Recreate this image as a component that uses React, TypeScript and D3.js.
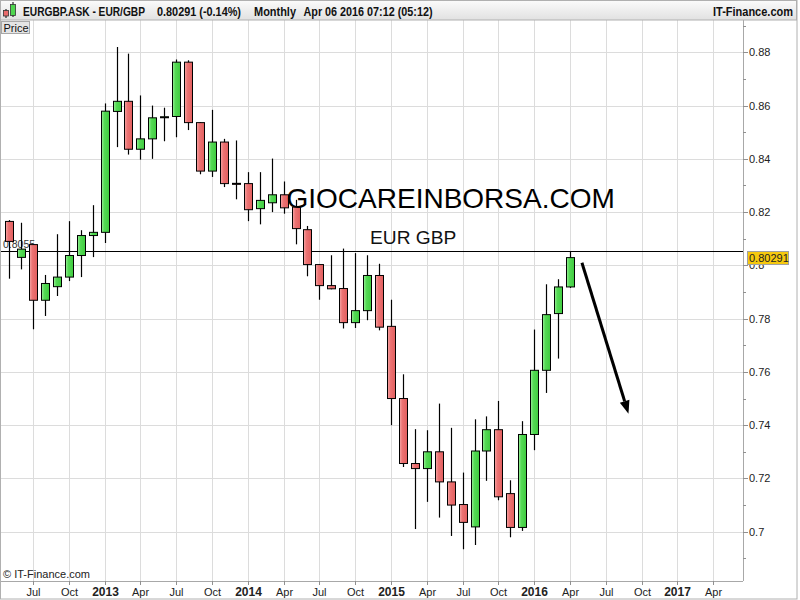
import * as d3 from "d3";

// monthly candles, May 2012 .. Apr 2016 (month index: 0 = Jan 2012)
const FIRST_MONTH = 4;
const OPEN = [
  0.8165, 0.803, 0.8078, 0.7869, 0.792, 0.7956, 0.8037, 0.8112,
  0.8124, 0.8578, 0.8616, 0.8436, 0.8475, 0.8555, 0.8559, 0.8763, 0.8536, 0.8354, 0.8463, 0.8308,
  0.8307, 0.8213, 0.8235, 0.8265, 0.8219, 0.8134, 0.8003, 0.7924, 0.7913, 0.7785, 0.783, 0.7962,
  0.7771, 0.75, 0.7256, 0.7237, 0.73, 0.7187, 0.7102, 0.7018, 0.7303, 0.7383, 0.7143, 0.7016,
  0.7365, 0.7606, 0.7819, 0.7919,
];
const HIGH = [
  0.817, 0.816, 0.808, 0.7964, 0.8117, 0.8166, 0.8132, 0.8226,
  0.8608, 0.882, 0.8795, 0.8638, 0.86, 0.8592, 0.8773, 0.877, 0.8538, 0.8584, 0.8475, 0.8469,
  0.835, 0.835, 0.8401, 0.8315, 0.8246, 0.8148, 0.8004, 0.8038, 0.8063, 0.8046, 0.8038, 0.8006,
  0.7871, 0.7591, 0.7385, 0.7381, 0.7481, 0.739, 0.7222, 0.7422, 0.7433, 0.7491, 0.7193, 0.7415,
  0.7759, 0.7929, 0.7948, 0.8053,
];
const LOW = [
  0.795, 0.7985, 0.776, 0.781, 0.7885, 0.7941, 0.7956, 0.8031,
  0.8084, 0.8444, 0.8416, 0.8397, 0.84, 0.8466, 0.8481, 0.8508, 0.8342, 0.8332, 0.8294, 0.8248,
  0.8166, 0.8154, 0.82, 0.8194, 0.8079, 0.7959, 0.7871, 0.791, 0.7763, 0.7765, 0.7794, 0.7756,
  0.74, 0.7243, 0.701, 0.7112, 0.7053, 0.6984, 0.6934, 0.695, 0.7191, 0.7118, 0.6979, 0.7003,
  0.7306, 0.7521, 0.765, 0.7915,
];
const CLOSE = [
  0.809, 0.8061, 0.7869, 0.7932, 0.7956, 0.8037, 0.8112, 0.8124,
  0.8579, 0.8616, 0.8436, 0.8475, 0.8554, 0.8558, 0.8763, 0.8536, 0.8354, 0.8463, 0.8307, 0.8305,
  0.8209, 0.8244, 0.8265, 0.8216, 0.8138, 0.8003, 0.7924, 0.7912, 0.7785, 0.783, 0.7962, 0.7768,
  0.75, 0.7256, 0.7237, 0.73, 0.7187, 0.71, 0.7035, 0.7303, 0.7383, 0.7131, 0.7016, 0.7365,
  0.7606, 0.7815, 0.7919, 0.80291,
];

const Y_TICKS = [0.7, 0.72, 0.74, 0.76, 0.78, 0.8, 0.82, 0.84, 0.86, 0.88];
const Y_MINOR = [0.69, 0.71, 0.73, 0.75, 0.77, 0.79, 0.81, 0.83, 0.85, 0.87, 0.89];
const X_TICK_MONTHS = [6, 9, 12, 15, 18, 21, 24, 27, 30, 33, 36, 39, 42, 45, 48, 51, 54, 57, 60, 63];
const X_TICK_LABELS = [
  "Jul", "Oct", "2013", "Apr", "Jul", "Oct", "2014", "Apr", "Jul", "Oct",
  "2015", "Apr", "Jul", "Oct", "2016", "Apr", "Jul", "Oct", "2017", "Apr",
];

const LAST_PRICE = 0.80291;
const LEVEL = 0.8055;
const ARROW_FROM: [number, number] = [52.0, 0.801];
const ARROW_TO: [number, number] = [55.9, 0.7443];

const W = 800;
const H = 600;
const PLOT = { left: 0, right: 743, top: 20, bottom: 581 };
const FONT = "Arial, 'Liberation Sans', sans-serif";

export default function App() {
  const x = d3.scaleLinear().domain([6, 51]).range([33, 570]);
  const y = d3.scaleLinear().domain([0.7, 0.88]).range([531.7, 52.3]);

  const candles = OPEN.map((o, i) => ({
    m: FIRST_MONTH + i,
    o,
    h: HIGH[i],
    l: LOW[i],
    c: CLOSE[i],
  }));

  const [ax1, ay1] = [x(ARROW_FROM[0]), y(ARROW_FROM[1])];
  const [ax2, ay2] = [x(ARROW_TO[0]), y(ARROW_TO[1])];
  const ang = Math.atan2(ay2 - ay1, ax2 - ax1);
  const headLen = 13;
  const headW = 5;
  const bx = ax2 - headLen * Math.cos(ang);
  const by = ay2 - headLen * Math.sin(ang);
  const head = [
    [ax2, ay2],
    [bx + headW * Math.sin(ang), by - headW * Math.cos(ang)],
    [bx - headW * Math.sin(ang), by + headW * Math.cos(ang)],
  ];

  return (
    <svg
      width={W}
      height={H}
      style={{ position: "absolute", left: 0, top: 0, background: "#fff" }}
      fontFamily={FONT}
    >
      <defs>
        <linearGradient id="hdr" x1="0" y1="0" x2="0" y2="1">
          <stop offset="0" stopColor="#fbfbfb" />
          <stop offset="1" stopColor="#e1e1e1" />
        </linearGradient>
        <linearGradient id="up" x1="0" y1="0" x2="1" y2="0">
          <stop offset="0" stopColor="#9cf09c" />
          <stop offset="0.35" stopColor="#55da55" />
          <stop offset="1" stopColor="#3fcb3f" />
        </linearGradient>
        <linearGradient id="down" x1="0" y1="0" x2="1" y2="0">
          <stop offset="0" stopColor="#f6a8a8" />
          <stop offset="0.35" stopColor="#ec7474" />
          <stop offset="1" stopColor="#e25e5e" />
        </linearGradient>
      </defs>

      <rect x={0} y={0} width={W} height={H} fill="#fff" />

      {/* grid */}
      <g stroke="#dcdcdc" strokeWidth={1}>
        {Y_TICKS.map((t) => (
          <line key={t} x1={PLOT.left} x2={PLOT.right} y1={Math.round(y(t)) + 0.5} y2={Math.round(y(t)) + 0.5} />
        ))}
        {X_TICK_MONTHS.map((m) => (
          <line key={m} x1={Math.round(x(m)) + 0.5} x2={Math.round(x(m)) + 0.5} y1={PLOT.top} y2={PLOT.bottom} />
        ))}
      </g>

      {/* 0.8055 level */}
      <line x1={PLOT.left} x2={PLOT.right} y1={Math.round(y(LEVEL)) + 0.5} y2={Math.round(y(LEVEL)) + 0.5} stroke="#000" />
      <text x={3} y={y(LEVEL) - 3} fontSize={10.5} fill="#333">
        {LEVEL}
      </text>

      {/* candles */}
      <g>
        {candles.map((d) => {
          const cx = Math.round(x(d.m)) + 0.5;
          const top = y(Math.max(d.o, d.c));
          const bot = y(Math.min(d.o, d.c));
          const up = d.c >= d.o;
          return (
            <g key={d.m}>
              <line x1={cx} x2={cx} y1={y(d.h)} y2={y(d.l)} stroke="#000" strokeWidth={1.2} />
              <rect
                x={cx - 4}
                y={top}
                width={8}
                height={Math.max(1, bot - top)}
                fill={up ? "url(#up)" : "url(#down)"}
                stroke="#000"
                strokeWidth={1}
              />
            </g>
          );
        })}
      </g>

      {/* watermark */}
      <text x={286.5} y={207.5} fontSize={28} fill="#000">
        GIOCAREINBORSA.COM
      </text>
      <text x={370} y={243.5} fontSize={19.2} fill="#111">
        EUR GBP
      </text>

      {/* arrow */}
      <line x1={ax1} y1={ay1} x2={bx} y2={by} stroke="#000" strokeWidth={3} />
      <polygon points={head.map((p) => p.join(",")).join(" ")} fill="#000" />

      {/* right axis */}
      <line x1={PLOT.right + 0.5} x2={PLOT.right + 0.5} y1={PLOT.top} y2={PLOT.bottom} stroke="#a8a8a8" />
      <g stroke="#909090">
        {Y_TICKS.map((t) => (
          <line key={t} x1={PLOT.right} x2={PLOT.right + 5} y1={Math.round(y(t)) + 0.5} y2={Math.round(y(t)) + 0.5} />
        ))}
        {Y_MINOR.map((t) => (
          <line key={t} x1={PLOT.right} x2={PLOT.right + 3} y1={Math.round(y(t)) + 0.5} y2={Math.round(y(t)) + 0.5} />
        ))}
      </g>
      <g fontSize={11} fill="#222">
        {Y_TICKS.map((t) => (
          <text key={t} x={749} y={y(t) + 4}>
            {String(+t.toFixed(2))}
          </text>
        ))}
      </g>
      <rect x={747.5} y={Math.round(y(LEVEL)) + 0.5} width={41} height={13} fill="#f6c90e" stroke="#a0a0a0" />
      <text x={749} y={Math.round(y(LEVEL)) + 11} fontSize={11} fill="#222">
        {LAST_PRICE}
      </text>

      {/* bottom axis */}
      <line x1={PLOT.left} x2={PLOT.right} y1={PLOT.bottom + 0.5} y2={PLOT.bottom + 0.5} stroke="#a8a8a8" />
      {X_TICK_MONTHS.map((m, i) => {
        const lab = X_TICK_LABELS[i];
        const year = /^\d{4}$/.test(lab);
        const px = Math.round(x(m)) + 0.5;
        return (
          <g key={m}>
            <line x1={px} x2={px} y1={PLOT.bottom} y2={PLOT.bottom + 4} stroke="#909090" />
            <text
              x={px}
              y={596}
              textAnchor="middle"
              fontSize={year ? 12 : 11}
              fontWeight={year ? "bold" : "normal"}
              fill="#222"
            >
              {lab}
            </text>
          </g>
        );
      })}
      <text x={3} y={577.5} fontSize={11} fill="#222">
        © IT-Finance.com
      </text>

      {/* header */}
      <rect x={0.5} y={0.5} width={796} height={19.5} fill="url(#hdr)" stroke="#b0b0b0" />
      <g>
        <line x1={6} x2={6} y1={9} y2={18} stroke="#000" />
        <rect x={3.5} y={10.5} width={5} height={5.5} fill="#e86b6b" stroke="#333" strokeWidth={0.8} />
        <line x1={13} x2={13} y1={2} y2={17} stroke="#000" />
        <rect x={10.5} y={4.5} width={5} height={11} fill="#4fd64f" stroke="#333" strokeWidth={0.8} />
      </g>
      <g fontSize={12} fontWeight="bold" fill="#111">
        <text x={23} y={15.5} textLength={122} lengthAdjust="spacingAndGlyphs">
          EURGBP.ASK - EUR/GBP
        </text>
        <text x={157} y={15.5} textLength={84} lengthAdjust="spacingAndGlyphs">
          0.80291 (-0.14%)
        </text>
        <text x={254} y={15.5} textLength={42} lengthAdjust="spacingAndGlyphs">
          Monthly
        </text>
        <text x={303.5} y={15.5} textLength={129} lengthAdjust="spacingAndGlyphs">
          Apr 06 2016 07:12 (05:12)
        </text>
        <text x={713} y={15.5} textLength={80} lengthAdjust="spacingAndGlyphs">
          IT-Finance.com
        </text>
      </g>
      <rect x={1.5} y={21.5} width={28} height={12} fill="#e4e4e4" stroke="#a8a8a8" />
      <text x={3.5} y={31.5} fontSize={11} fill="#111">
        Price
      </text>

      {/* outer frame */}
      <rect x={0.5} y={0.5} width={796.5} height={598.5} fill="none" stroke="#b0b0b0" />
    </svg>
  );
}
